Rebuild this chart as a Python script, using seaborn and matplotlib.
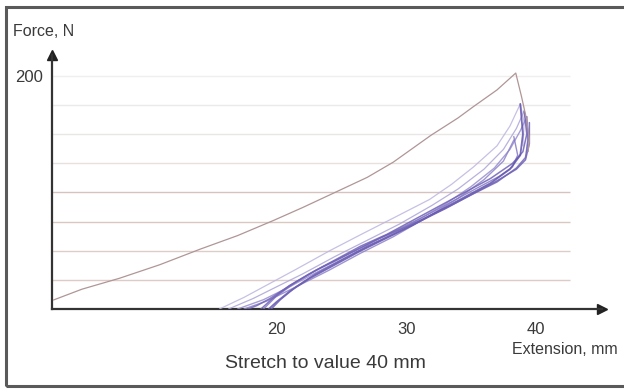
import matplotlib
matplotlib.use("Agg")
import matplotlib.pyplot as plt
from matplotlib.patches import Rectangle
import seaborn as sns
import pandas as pd

sns.set_theme(style="white")
plt.rcParams['font.family'] = ['Liberation Sans', 'DejaVu Sans']

# ---- data (extension in mm, force in N) ----
x_ticks = [20, 30, 40]
y_ticks = [200]
grid_levels = [25, 50, 75, 100, 125, 150, 175, 200]

# first loading cycle (brown)
first_ext = [2.8, 5.0, 7.9, 11.0, 14.1, 17.0, 19.75, 22.0, 24.6, 27.0, 29.0, 31.9, 34.0, 35.2, 37.0, 38.45,
             38.9, 39.3, 39.5, 39.4]
first_force = [7.7, 17, 26.4, 38, 51.3, 63, 75.9, 87, 100.5, 113, 126, 149, 164, 173.8, 188, 202.5,
               182, 162, 145, 135]

# later cycles (blue)
cycA_ext = [15.6, 17.5, 19.5, 21.5, 24.1, 26.7, 29.0, 31.8, 33.5, 35.2, 37.0, 38.0, 38.8, 39.1, 39.0]
cycA_force = [0, 10, 22, 34, 50, 65, 78, 94, 107, 122, 140, 157, 176, 160, 140]
cycB_ext = [16.3, 18.2, 20.0, 22.0, 24.5, 27.0, 29.5, 32.0, 34.0, 36.0, 37.5, 38.5, 39.1, 39.4, 39.3]
cycB_force = [0, 9, 19, 30, 45, 59, 73, 89, 103, 120, 137, 155, 170, 152, 135]
cycC_ext = [17.0, 19.0, 21.0, 23.0, 25.5, 28.0, 30.5, 33.0, 35.0, 36.8, 38.0, 38.8, 39.3]
cycC_force = [0, 8, 19, 31, 45, 59, 74, 90, 105, 121, 137, 153, 165]
cycD_ext = [17.5, 19.3, 21.5, 24.0, 26.5, 29.0, 31.5, 34.0, 36.0, 37.5, 38.3]
cycD_force = [0, 7, 19, 33, 48, 62, 78, 95, 111, 127, 145]
cycE_ext = [39.3, 39.4, 39.2, 38.5, 37.0, 35.2, 33.3, 31.8, 29.9, 28.0, 26.4, 24.5, 23.0, 21.0, 19.5, 18.5, 17.8]
cycE_force = [165, 145, 130, 121, 109, 99, 88, 80, 70, 61, 52, 41, 33, 20, 9, 3, 0]
cycF_ext = [39.1, 39.3, 39.0, 38.2, 36.5, 34.5, 32.5, 30.5, 28.5, 26.5, 24.5, 22.5, 21.0, 19.8, 18.8]
cycF_force = [170, 150, 135, 125, 112, 100, 88, 76, 64, 54, 42, 30, 20, 10, 0]
cycG_ext = [38.8, 39.0, 38.8, 38.0, 36.5, 34.5, 32.5, 30.5, 28.5, 26.5, 24.5, 22.5, 21.0, 20.0, 19.4]
cycG_force = [176, 150, 132, 120, 108, 96, 84, 72, 61, 50, 38, 26, 15, 6, 0]
cycH_ext = [39.5, 39.5, 39.2, 38.5, 37.0, 35.0, 33.0, 31.0, 29.0, 27.0, 25.0, 23.0, 21.5, 20.3, 19.6]
cycH_force = [160, 142, 128, 120, 110, 98, 86, 75, 64, 54, 42, 30, 19, 8, 0]
cycI_ext = [38.3, 38.6, 38.2, 37.2, 35.5, 33.5, 31.5, 29.5, 27.5, 25.5, 23.5, 21.5, 20.0, 19.0]
cycI_force = [148, 132, 122, 114, 104, 92, 80, 69, 58, 47, 36, 23, 11, 0]

blue_curves = [
    ("A", cycA_ext, cycA_force, "#bdb5e0", 0.9),
    ("B", cycB_ext, cycB_force, "#aca3d8", 0.9),
    ("C", cycC_ext, cycC_force, "#998dcf", 1.0),
    ("D", cycD_ext, cycD_force, "#8e82ca", 1.0),
    ("I", cycI_ext, cycI_force, "#8578c4", 1.0),
    ("E", cycE_ext, cycE_force, "#7366b9", 1.1),
    ("F", cycF_ext, cycF_force, "#6f61b7", 1.1),
    ("G", cycG_ext, cycG_force, "#6254ae", 1.3),
    ("H", cycH_ext, cycH_force, "#6e61b5", 1.1),
]

W, H = 624, 390
fig = plt.figure(figsize=(W / 100, H / 100), dpi=100)
fig.patch.set_facecolor("white")

ax_l, ax_r, ax_b, ax_t = 52, 602, 309, 55
ax = fig.add_axes([ax_l / W, (H - ax_b) / H, (ax_r - ax_l) / W, (ax_b - ax_t) / H])
ax.set_facecolor("none")
ax.set_xlim(2.69, 45.1)
ax.set_ylim(0, 218)

# grid lines
grid_colors = ["#dccbc6", "#ddcdc8", "#d9c7c1", "#d6c3bd", "#e6e1df", "#eae6e5", "#ece9e9", "#f0eeee"]
for lvl, col in zip(grid_levels, grid_colors):
    ax.hlines(lvl, 2.69, 42.6, colors=col, linewidth=1.0, zorder=1)

# curves
for name, xs, ys, col, lw in blue_curves:
    d = pd.DataFrame({"ext": xs, "force": ys})
    sns.lineplot(data=d, x="ext", y="force", sort=False, estimator=None, color=col,
                 linewidth=lw, alpha=0.85, ax=ax, zorder=3)

dfirst = pd.DataFrame({"ext": first_ext, "force": first_force})
sns.lineplot(data=dfirst, x="ext", y="force", sort=False, estimator=None, color="#b09696",
             linewidth=0.9, ax=ax, zorder=4)

# axes styling
for s in ["top", "right"]:
    ax.spines[s].set_visible(False)
for s in ["left", "bottom"]:
    ax.spines[s].set_color("#333333")
    ax.spines[s].set_linewidth(1.6)

ax.set_xticks(x_ticks)
ax.set_xticklabels([str(v) for v in x_ticks])
ax.set_yticks(y_ticks)
ax.set_yticklabels([str(v) for v in y_ticks])
ax.tick_params(axis="both", direction="inout", length=9, width=1.3, color="#333333",
               labelsize=12, labelcolor="#3a3a3a")
ax.tick_params(axis="x", pad=5)
ax.tick_params(axis="y", pad=2)
ax.set_xlabel("")
ax.set_ylabel("")

# arrows
ax.plot([1], [0], marker=">", markersize=7, color="#222222", transform=ax.transAxes, clip_on=False)
ax.plot([0], [1], marker="^", markersize=7, color="#222222", transform=ax.transAxes, clip_on=False)

# texts
fig.text(13 / W, 1 - 32 / H, "Force, N", fontsize=11.5, color="#3a3a3a", ha="left", va="center")
fig.text(512 / W, 1 - 350 / H, "Extension, mm", fontsize=11.5, color="#3a3a3a", ha="left", va="center")
fig.text(325 / W, 1 - 363 / H, "Stretch to value 40 mm", fontsize=14, color="#3a3a3a",
         ha="center", va="center")

# frame
fig.patches.append(Rectangle((6 / W, 4 / H), (640 - 6) / W, (386 - 7) / H, transform=fig.transFigure,
                             fill=False, edgecolor="#5a5a5a", linewidth=2.2))

fig.savefig("out.png", dpi=100)
